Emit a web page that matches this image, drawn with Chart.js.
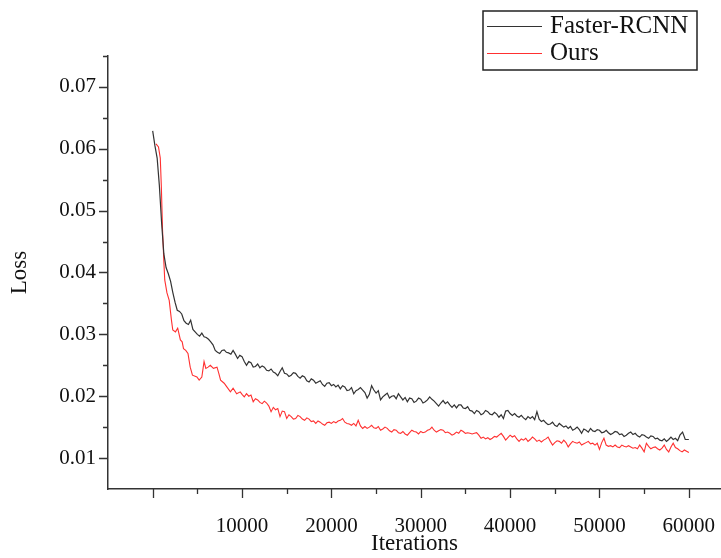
<!DOCTYPE html>
<html>
<head>
<meta charset="utf-8">
<script src="https://cdn.jsdelivr.net/npm/chart.js@4.4.0/dist/chart.umd.min.js"></script>
<style>
  html, body { margin: 0; padding: 0; background: #fff; overflow: hidden; }
  canvas { display: block; }
</style>
</head>
<body>
<canvas id="lossChart" width="721" height="558"></canvas>
<script>
// --- Data ---
const fasterIters = [0, 250, 500, 750, 1000, 1250, 1500, 1750, 2000, 2250, 2500, 2750, 3000, 3250, 3500, 3750, 4000, 4250, 4500, 4750,
  5000, 5250, 5500, 5750, 6000, 6250, 6500, 6750, 7000, 7250, 7500, 7750, 8000, 8250, 8500, 8750, 9000, 9250, 9500, 9750,
  10000, 10250, 10500, 10750, 11000, 11250, 11500, 11750, 12000, 12250, 12500, 12750, 13000, 13250, 13500, 13750, 14000, 14250, 14500, 14750,
  15000, 15250, 15500, 15750, 16000, 16250, 16500, 16750, 17000, 17250, 17500, 17750, 18000, 18250, 18500, 18750, 19000, 19250, 19500, 19750,
  20000, 20250, 20500, 20750, 21000, 21250, 21500, 21750, 22000, 22250, 22500, 22750, 23000, 23250, 23500, 23750, 24000, 24250, 24500, 24750,
  25000, 25250, 25500, 25750, 26000, 26250, 26500, 26750, 27000, 27250, 27500, 27750, 28000, 28250, 28500, 28750, 29000, 29250, 29500, 29750,
  30000, 30250, 30500, 30750, 31000, 31250, 31500, 31750, 32000, 32250, 32500, 32750, 33000, 33250, 33500, 33750, 34000, 34250, 34500, 34750,
  35000, 35250, 35500, 35750, 36000, 36250, 36500, 36750, 37000, 37250, 37500, 37750, 38000, 38250, 38500, 38750, 39000, 39250, 39500, 39750,
  40000, 40250, 40500, 40750, 41000, 41250, 41500, 41750, 42000, 42250, 42500, 42750, 43000, 43250, 43500, 43750, 44000, 44250, 44500, 44750,
  45000, 45250, 45500, 45750, 46000, 46250, 46500, 46750, 47000, 47250, 47500, 47750, 48000, 48250, 48500, 48750, 49000, 49250, 49500, 49750,
  50000, 50250, 50500, 50750, 51000, 51250, 51500, 51750, 52000, 52250, 52500, 52750, 53000, 53250, 53500, 53750, 54000, 54250, 54500, 54750,
  55000, 55250, 55500, 55750, 56000, 56250, 56500, 56750, 57000, 57250, 57500, 57750, 58000, 58250, 58500, 58750, 59000, 59300, 59600, 60000];
const fasterLoss = [0.0629, 0.0605, 0.0585, 0.0540, 0.0480, 0.0430, 0.0408, 0.0398, 0.0386, 0.0368, 0.0352, 0.0339, 0.0337, 0.0333, 0.0322, 0.0318, 0.0316, 0.0323, 0.0308, 0.0304,
  0.0300, 0.0297, 0.0302, 0.0296, 0.0295, 0.0292, 0.0288, 0.0283, 0.0274, 0.0271, 0.0269, 0.0274, 0.0275, 0.0271, 0.0270, 0.0268, 0.0274, 0.0268, 0.0261, 0.0266,
  0.0264, 0.0256, 0.0250, 0.0256, 0.0254, 0.0247, 0.0248, 0.0252, 0.0246, 0.0249, 0.0247, 0.0242, 0.0241, 0.0244, 0.0239, 0.0237, 0.0233, 0.0240, 0.0246, 0.0237,
  0.0236, 0.0232, 0.0234, 0.0238, 0.0237, 0.0232, 0.0229, 0.0233, 0.0231, 0.0225, 0.0223, 0.0228, 0.0226, 0.0221, 0.0223, 0.0225, 0.0219, 0.0216, 0.0221, 0.0222,
  0.0217, 0.0219, 0.0215, 0.0218, 0.0212, 0.0217, 0.0215, 0.0209, 0.0210, 0.0214, 0.0204, 0.0209, 0.0211, 0.0214, 0.0210, 0.0206, 0.0197, 0.0203, 0.0217, 0.0210,
  0.0205, 0.0209, 0.0194, 0.0199, 0.0202, 0.0205, 0.0197, 0.0200, 0.0201, 0.0196, 0.0204, 0.0199, 0.0194, 0.0198, 0.0191, 0.0197, 0.0196, 0.0190, 0.0192, 0.0197,
  0.0195, 0.0189, 0.0191, 0.0194, 0.0199, 0.0195, 0.0192, 0.0188, 0.0184, 0.0189, 0.0193, 0.0188, 0.0191, 0.0186, 0.0182, 0.0186, 0.0181, 0.0186, 0.0186, 0.0181,
  0.0180, 0.0183, 0.0177, 0.0176, 0.0172, 0.0177, 0.0175, 0.0170, 0.0172, 0.0177, 0.0175, 0.0171, 0.0170, 0.0174, 0.0171, 0.0166, 0.0170, 0.0164, 0.0176, 0.0177,
  0.0172, 0.0169, 0.0172, 0.0168, 0.0166, 0.0169, 0.0165, 0.0162, 0.0167, 0.0164, 0.0167, 0.0162, 0.0175, 0.0163, 0.0159, 0.0161, 0.0157, 0.0154, 0.0155, 0.0158,
  0.0153, 0.0151, 0.0156, 0.0153, 0.0150, 0.0152, 0.0148, 0.0151, 0.0145, 0.0147, 0.0150, 0.0146, 0.0140, 0.0147, 0.0145, 0.0142, 0.0148, 0.0144, 0.0143, 0.0146,
  0.0145, 0.0141, 0.0142, 0.0145, 0.0141, 0.0138, 0.0140, 0.0143, 0.0142, 0.0138, 0.0139, 0.0135, 0.0137, 0.0140, 0.0142, 0.0138, 0.0140, 0.0136, 0.0134, 0.0138,
  0.0137, 0.0134, 0.0132, 0.0136, 0.0135, 0.0131, 0.0132, 0.0129, 0.0128, 0.0131, 0.0127, 0.0130, 0.0134, 0.0130, 0.0132, 0.0128, 0.0137, 0.0142, 0.0130, 0.0130];

const oursIters = [370, 650, 850, 970, 1100, 1250, 1350, 1600, 1850, 2100, 2250, 2550, 2800, 3100, 3300, 3450, 3700, 3950, 4200, 4450,
  4950, 5200, 5500, 5750, 5950, 6200, 6450, 6800, 7200, 7400, 7600, 8000, 8300, 8700, 9000, 9400, 9800,
  10000, 10250, 10500, 10750, 11000, 11250, 11500, 11750, 12000, 12250, 12500, 12750, 13000, 13250, 13500, 13750, 14000, 14250, 14500, 14750,
  15000, 15250, 15500, 15750, 16000, 16250, 16500, 16750, 17000, 17250, 17500, 17750, 18000, 18250, 18500, 18750, 19000, 19250, 19500, 19750,
  20000, 20250, 20500, 20750, 21000, 21250, 21500, 21750, 22000, 22250, 22500, 22750, 23000, 23250, 23500, 23750, 24000, 24250, 24500, 24750,
  25000, 25250, 25500, 25750, 26000, 26250, 26500, 26750, 27000, 27250, 27500, 27750, 28000, 28250, 28500, 28750, 29000, 29250, 29500, 29750,
  30000, 30250, 30500, 30750, 31000, 31250, 31500, 31750, 32000, 32250, 32500, 32750, 33000, 33250, 33500, 33750, 34000, 34250, 34500, 34750,
  35000, 35250, 35500, 35750, 36000, 36250, 36500, 36750, 37000, 37250, 37500, 37750, 38000, 38250, 38500, 38750, 39000, 39250, 39500, 39750,
  40000, 40250, 40500, 40750, 41000, 41250, 41500, 41750, 42000, 42250, 42500, 42750, 43000, 43250, 43500, 43750, 44000, 44250, 44500, 44750,
  45000, 45250, 45500, 45750, 46000, 46250, 46500, 46750, 47000, 47250, 47500, 47750, 48000, 48250, 48500, 48750, 49000, 49250, 49500, 49750,
  50000, 50250, 50500, 50750, 51000, 51250, 51500, 51750, 52000, 52250, 52500, 52750, 53000, 53250, 53500, 53750, 54000, 54250, 54500, 54750,
  55000, 55250, 55500, 55750, 56000, 56250, 56500, 56750, 57000, 57250, 57500, 57750, 58000, 58250, 58500, 58750, 59000, 59250, 59500, 59750, 60000];
const oursLoss = [0.0608, 0.0603, 0.0585, 0.0539, 0.0470, 0.0418, 0.0388, 0.0367, 0.0355, 0.0323, 0.0307, 0.0304, 0.0310, 0.0291, 0.0288, 0.0277, 0.0274, 0.0269, 0.0247, 0.0234,
  0.0231, 0.0226, 0.0231, 0.0256, 0.0245, 0.0247, 0.0250, 0.0245, 0.0247, 0.0237, 0.0226, 0.0221, 0.0215, 0.0207, 0.0213, 0.0204, 0.0207,
  0.0203, 0.0199, 0.0204, 0.0200, 0.0202, 0.0191, 0.0196, 0.0194, 0.0190, 0.0188, 0.0192, 0.0189, 0.0184, 0.0175, 0.0182, 0.0178, 0.0180, 0.0167, 0.0176, 0.0175,
  0.0164, 0.0170, 0.0167, 0.0163, 0.0164, 0.0169, 0.0167, 0.0163, 0.0161, 0.0165, 0.0163, 0.0159, 0.0160, 0.0156, 0.0160, 0.0158, 0.0155, 0.0153, 0.0157, 0.0158,
  0.0156, 0.0159, 0.0157, 0.0160, 0.0161, 0.0164, 0.0158, 0.0156, 0.0155, 0.0153, 0.0156, 0.0152, 0.0161, 0.0152, 0.0148, 0.0151, 0.0148, 0.0150, 0.0153, 0.0149,
  0.0148, 0.0151, 0.0145, 0.0147, 0.0150, 0.0148, 0.0144, 0.0142, 0.0146, 0.0145, 0.0141, 0.0140, 0.0143, 0.0139, 0.0137, 0.0141, 0.0145, 0.0143, 0.0142, 0.0139,
  0.0143, 0.0141, 0.0142, 0.0145, 0.0146, 0.0150, 0.0145, 0.0142, 0.0144, 0.0146, 0.0145, 0.0141, 0.0142, 0.0140, 0.0137, 0.0139, 0.0142, 0.0140, 0.0145, 0.0143,
  0.0140, 0.0141, 0.0140, 0.0139, 0.0140, 0.0141, 0.0137, 0.0132, 0.0134, 0.0131, 0.0133, 0.0130, 0.0132, 0.0135, 0.0134, 0.0137, 0.0140, 0.0135, 0.0129, 0.0133,
  0.0137, 0.0134, 0.0136, 0.0131, 0.0127, 0.0131, 0.0129, 0.0132, 0.0127, 0.0130, 0.0134, 0.0131, 0.0127, 0.0129, 0.0126, 0.0129, 0.0131, 0.0134, 0.0127, 0.0121,
  0.0125, 0.0128, 0.0127, 0.0124, 0.0129, 0.0125, 0.0118, 0.0123, 0.0127, 0.0125, 0.0124, 0.0126, 0.0121, 0.0123, 0.0125, 0.0127, 0.0123, 0.0124, 0.0121, 0.0124,
  0.0114, 0.0125, 0.0132, 0.0121, 0.0119, 0.0120, 0.0118, 0.0121, 0.0118, 0.0117, 0.0121, 0.0119, 0.0118, 0.0120, 0.0118, 0.0116, 0.0117, 0.0115, 0.0121, 0.0116,
  0.0110, 0.0124, 0.0119, 0.0115, 0.0117, 0.0118, 0.0115, 0.0113, 0.0116, 0.0121, 0.0114, 0.0110, 0.0118, 0.0124, 0.0117, 0.0115, 0.0112, 0.0110, 0.0113, 0.0111, 0.0109];

// --- Axis ticks ---
const xTickValues = [10000, 20000, 30000, 40000, 50000, 60000];
const xTickLabels = ['10000', '20000', '30000', '40000', '50000', '60000'];
const xMajorMarks = [0, 10000, 20000, 30000, 40000, 50000, 60000];
const xMinorMarks = [5000, 15000, 25000, 35000, 45000, 55000];
const yTickValues = [0.01, 0.02, 0.03, 0.04, 0.05, 0.06, 0.07];
const yTickLabels = ['0.01', '0.02', '0.03', '0.04', '0.05', '0.06', '0.07'];
const yMinorMarks = [0.015, 0.025, 0.035, 0.045, 0.055, 0.065, 0.075];

const FONT = '"Liberation Serif", "Times New Roman", serif';
const AXIS_COLOR = '#333';

const toPoints = (xs, ys) => xs.map((x, i) => ({ x: x, y: ys[i] }));

// Draws the outward tick marks (long major, short minor)
const tickMarks = {
    id: 'tickMarks',
    afterDraw(chart) {
        const { ctx, scales: { x, y }, chartArea } = chart;
        ctx.save();
        ctx.strokeStyle = AXIS_COLOR;
        ctx.lineWidth = 1.3;
        ctx.beginPath();
        xMajorMarks.forEach(v => {
            const px = Math.round(x.getPixelForValue(v)) + 0.5;
            ctx.moveTo(px, chartArea.bottom); ctx.lineTo(px, chartArea.bottom + 9);
        });
        xMinorMarks.forEach(v => {
            const px = Math.round(x.getPixelForValue(v)) + 0.5;
            ctx.moveTo(px, chartArea.bottom); ctx.lineTo(px, chartArea.bottom + 5);
        });
        yTickValues.forEach(v => {
            const py = Math.round(y.getPixelForValue(v)) + 0.5;
            ctx.moveTo(chartArea.left, py); ctx.lineTo(chartArea.left - 9, py);
        });
        yMinorMarks.forEach(v => {
            const py = Math.round(y.getPixelForValue(v)) + 0.5;
            ctx.moveTo(chartArea.left, py); ctx.lineTo(chartArea.left - 5, py);
        });
        ctx.stroke();
        ctx.restore();
    }
};

// Boxed legend in the top right corner
const boxLegend = {
    id: 'boxLegend',
    afterDraw(chart) {
        const ctx = chart.ctx;
        ctx.save();
        ctx.strokeStyle = '#222';
        ctx.lineWidth = 1.5;
        ctx.strokeRect(483, 11, 214, 59);
        ctx.font = '25px ' + FONT;
        ctx.textBaseline = 'middle';
        ctx.fillStyle = '#111';
        chart.data.datasets.forEach((ds, i) => {
            const yy = 26 + i * 27;
            ctx.strokeStyle = ds.borderColor;
            ctx.lineWidth = 1.2;
            ctx.beginPath();
            ctx.moveTo(487, yy + 0.5); ctx.lineTo(542, yy + 0.5);
            ctx.stroke();
            ctx.fillText(ds.label, 550, yy);
        });
        ctx.restore();
    }
};

const ctx = document.getElementById('lossChart').getContext('2d');
const lossChart = new Chart(ctx, {
    type: 'line',
    data: {
        datasets: [
            {
                label: 'Faster-RCNN',
                data: toPoints(fasterIters, fasterLoss),
                borderColor: '#333333',
                borderWidth: 1.2,
                pointRadius: 0,
                tension: 0
            },
            {
                label: 'Ours',
                data: toPoints(oursIters, oursLoss),
                borderColor: '#ff3030',
                borderWidth: 1.1,
                pointRadius: 0,
                tension: 0
            }
        ]
    },
    options: {
        responsive: false,
        animation: false,
        layout: { padding: { top: 56, right: 0, bottom: 0, left: 0 } },
        plugins: {
            legend: { display: false },
            tooltip: { enabled: false }
        },
        scales: {
            x: {
                type: 'linear',
                min: -5000,
                max: 63600,
                afterFit: s => { s.height = 69; s.paddingLeft = 0; s.paddingRight = 0; },
                afterBuildTicks: s => { s.ticks = xTickValues.map(v => ({ value: v })); },
                ticks: {
                    callback: v => xTickLabels[xTickValues.indexOf(v)],
                    font: { family: FONT, size: 21 },
                    color: '#111',
                    padding: 25,
                    maxRotation: 0,
                    autoSkip: false
                },
                grid: { display: false, drawTicks: false },
                border: { display: true, color: AXIS_COLOR, width: 1.5 },
                title: {
                    display: true,
                    text: 'Iterations',
                    font: { family: FONT, size: 23 },
                    color: '#111',
                    padding: { top: 0, bottom: 0 }
                }
            },
            y: {
                min: 0.005,
                max: 0.075,
                afterFit: s => { s.width = 108; s.paddingTop = 0; s.paddingBottom = 0; },
                afterBuildTicks: s => { s.ticks = yTickValues.map(v => ({ value: v })); },
                ticks: {
                    callback: v => yTickLabels[yTickValues.indexOf(v)],
                    font: { family: FONT, size: 21 },
                    color: '#111',
                    padding: 12
                },
                grid: { display: false, drawTicks: false },
                border: { display: true, color: AXIS_COLOR, width: 1.5 },
                title: {
                    display: true,
                    text: 'Loss',
                    font: { family: FONT, size: 23 },
                    color: '#111',
                    padding: { top: 6, bottom: 0 }
                }
            }
        }
    },
    plugins: [tickMarks, boxLegend]
});
</script>
</body>
</html>
